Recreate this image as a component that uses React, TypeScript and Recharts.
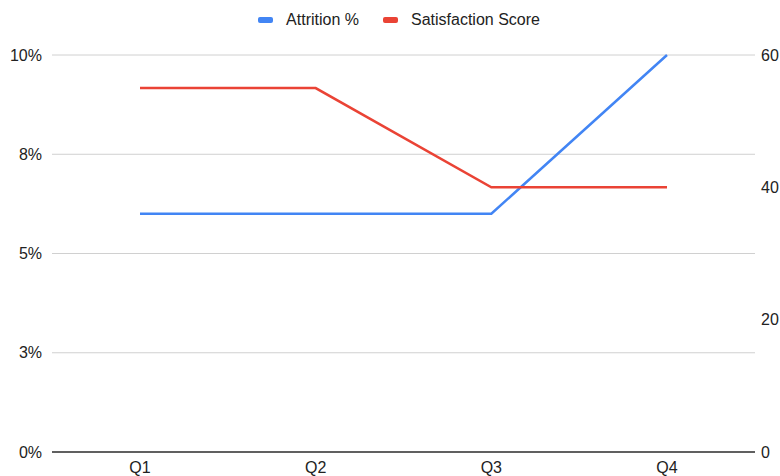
import React from 'react';
import {
  LineChart,
  Line,
  XAxis,
  YAxis,
  CartesianGrid,
  Legend,
} from 'recharts';

const quarters = ['Q1', 'Q2', 'Q3', 'Q4'];
const attritionPct = [6, 6, 6, 10];
const satisfactionScore = [55, 55, 40, 40];
const leftTicks = [0, 2.5, 5, 7.5, 10];
const rightTicks = [0, 20, 40, 60];

const chartData = quarters.map((q, i) => ({
  name: q,
  attrition: attritionPct[i],
  satisfaction: satisfactionScore[i],
}));

const FONT = 'Arial, "Liberation Sans", Helvetica, sans-serif';
const tickStyle = { fontSize: 16, fontFamily: FONT, fill: '#222' };

const seriesLegend = [
  { label: 'Attrition %', color: '#4285F4' },
  { label: 'Satisfaction Score', color: '#EA4335' },
];

function LegendContent() {
  return (
    <div
      style={{
        display: 'flex',
        justifyContent: 'center',
        alignItems: 'center',
        fontFamily: FONT,
        fontSize: 16,
        color: '#222',
        height: 20,
        paddingLeft: 18,
      }}
    >
      {seriesLegend.map((s) => (
        <div key={s.label} style={{ display: 'flex', alignItems: 'center', margin: '0 12px' }}>
          <span
            style={{
              display: 'inline-block',
              width: 15,
              height: 6,
              borderRadius: 2,
              background: s.color,
              marginRight: 13,
            }}
          />
          {s.label}
        </div>
      ))}
    </div>
  );
}

export default function App() {
  return (
    <div style={{ position: 'fixed', left: 0, top: 0, background: '#fff' }}>
      <LineChart
        width={780}
        height={476}
        data={chartData}
        margin={{ top: 35, right: 0, left: 0, bottom: 0 }}
      >
        <CartesianGrid
          yAxisId="left"
          vertical={false}
          stroke="#d0d0d0"
          horizontalValues={leftTicks}
        />
        <XAxis
          dataKey="name"
          height={24}
          padding={{ left: 88, right: 88 }}
          axisLine={{ stroke: '#333', strokeWidth: 1.5 }}
          tickLine={false}
          tickSize={0}
          tickMargin={10}
          tick={tickStyle}
        />
        <YAxis
          yAxisId="left"
          width={52}
          domain={[0, 10]}
          ticks={leftTicks}
          tickFormatter={(v: number) => `${Math.round(v)}%`}
          axisLine={false}
          tickLine={false}
          tickSize={0}
          tickMargin={10}
          tick={tickStyle}
        />
        <YAxis
          yAxisId="right"
          orientation="right"
          width={25}
          domain={[0, 60]}
          ticks={rightTicks}
          axisLine={false}
          tickLine={false}
          tickSize={0}
          tickMargin={6}
          tick={{ ...tickStyle, textAnchor: 'start' }}
        />
        <Legend
          verticalAlign="top"
          align="center"
          content={<LegendContent />}
          wrapperStyle={{ top: 10, left: 0, width: 780 }}
        />
        <Line
          yAxisId="left"
          type="linear"
          dataKey="attrition"
          name="Attrition %"
          stroke="#4285F4"
          strokeWidth={2.5}
          dot={false}
          isAnimationActive={false}
        />
        <Line
          yAxisId="right"
          type="linear"
          dataKey="satisfaction"
          name="Satisfaction Score"
          stroke="#EA4335"
          strokeWidth={2.5}
          dot={false}
          isAnimationActive={false}
        />
      </LineChart>
    </div>
  );
}
